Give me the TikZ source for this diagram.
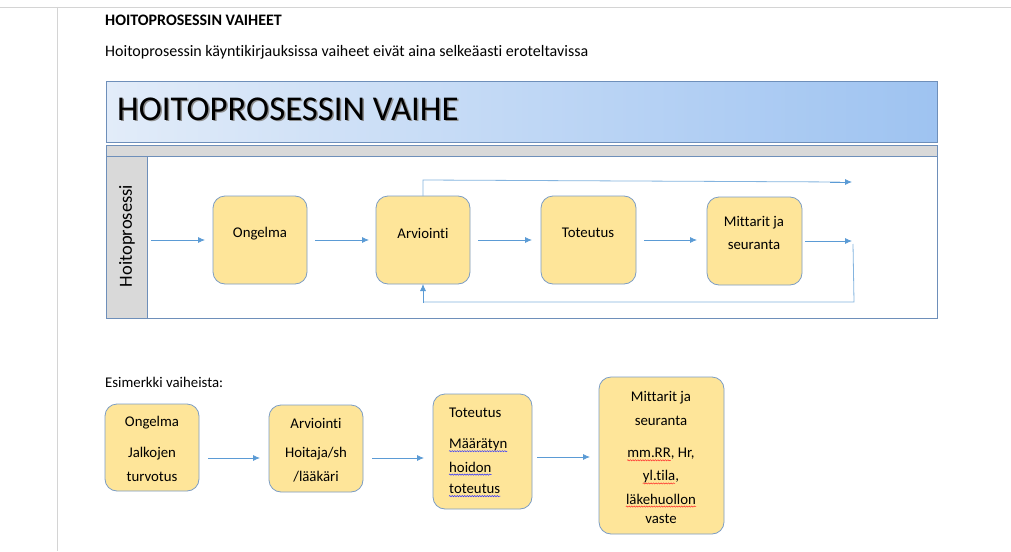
\documentclass[tikz,border=0pt]{standalone}
\usepackage{fontspec}
\setmainfont{Carlito}[RawFeature=-liga]
\usetikzlibrary{arrows.meta,decorations.pathmorphing}
\definecolor{boxfill}{HTML}{FEE599}
\definecolor{boxline}{HTML}{7C9DC4}
\definecolor{arr}{HTML}{5B9BD5}
\definecolor{lane}{HTML}{6E8FBA}
\definecolor{laneg}{HTML}{D9D9D9}
\definecolor{hdrL}{HTML}{E2ECF9}
\definecolor{hdrR}{HTML}{9EC3F1}
\definecolor{pageline}{HTML}{D4D4D4}
\tikzset{
  stage/.style={draw=boxline, line width=0.8pt, fill=boxfill, rounded corners=12pt},
  flow/.style={draw=arr, line width=0.8pt, -{Latex[length=7pt,width=6pt]}},
  loopline/.style={draw=arr!75, line width=0.8pt},
  txt/.style={inner sep=0pt, font=\fontsize{14.8}{16}\selectfont},
  squig/.style={decorate, decoration={snake, amplitude=0.6pt, segment length=2.5pt}, line width=0.5pt},
}
\begin{document}
\begin{tikzpicture}[x=1pt,y=-1pt]
\useasboundingbox (0,0) rectangle (1011,551);
\fill[white] (0,0) rectangle (1011,551);
% page guide lines
\draw[pageline, line width=0.8pt] (0,7) -- (1011,7);
\draw[pageline, line width=0.8pt] (57,7) -- (57,551);
% page texts
\node[txt, anchor=west, font=\bfseries\fontsize{16}{18}\selectfont] (h1) at (105,20) {HOITOPROSESSIN VAIHEET};
\node[txt, anchor=west, font=\fontsize{16}{18}\selectfont] (intro) at (105,52) {Hoitoprosessin käyntikirjauksissa vaiheet eivät aina selkeäasti eroteltavissa};
% header
\draw[lane, line width=0.8pt, left color=hdrL, right color=hdrR] (106,81) rectangle (937,142);
\node[txt, anchor=west, font=\fontsize{34.8}{36}\selectfont, text=black!45] at (118.5,110.5) {HOITOPROSESSIN VAIHE};
\node[txt, anchor=west, font=\fontsize{34.8}{36}\selectfont] (title) at (117,109) {HOITOPROSESSIN VAIHE};
% gray bar
\draw[lane, line width=0.8pt, fill=laneg] (106,145) rectangle (937,156);
% lane
\draw[lane, line width=0.8pt, fill=white] (106,156) rectangle (937,318);
\draw[lane, line width=0.8pt, fill=laneg] (106,156) rectangle (147,318);
\node[txt, rotate=90, font=\fontsize{18.5}{20}\selectfont] (lanelbl) at (127,236) {Hoitoprosessi};
% stages row 1
\draw[stage] (213,196) rectangle (307,284);
\node[txt] (s1) at (260,234) {Ongelma};
\draw[stage] (376,196) rectangle (470,284);
\node[txt] (s2) at (423,233) {Arviointi};
\draw[stage] (541,196) rectangle (636,284);
\node[txt] (s3) at (588,233) {Toteutus};
\draw[stage] (707,197) rectangle (802,285);
\node[txt] (s4a) at (754,223) {Mittarit ja};
\node[txt] (s4b) at (754,245) {seuranta};
\coordinate (b1w) at (213,240); \coordinate (b1e) at (307,240);
\coordinate (b2w) at (376,240); \coordinate (b2e) at (470,240);
\coordinate (b3w) at (541,240); \coordinate (b3e) at (636,240);
\coordinate (b4w) at (707,240); \coordinate (b4e) at (802,241);
\coordinate (b2n) at (423,196); \coordinate (b2s) at (423,284);
\coordinate (in0) at (151,240);
\coordinate (out1) at (852,182);
\coordinate (out2) at (852,241);
% arrows row 1
\draw[flow] (in0) -- ([xshift=-8pt]b1w);
\draw[flow] ([xshift=8pt]b1e) -- ([xshift=-7pt]b2w);
\draw[flow] ([xshift=8pt]b2e) -- ([xshift=-9pt]b3w);
\draw[flow] ([xshift=8pt]b3e) -- ([xshift=-10pt]b4w);
\draw[flow] ([xshift=3pt]b4e) -- (out2);
\draw[loopline] (b2n) -- (423,180) -- (840,182);
\draw[flow] (830,182) -- (out1);
\draw[loopline] (853,244) -- (854,302) -- (423,302);
\draw[flow] (423,303) -- (b2s);
% example
\node[txt, anchor=west] (ex) at (105,382) {Esimerkki vaiheista:};
\draw[stage] (105,404) rectangle (199,491);
\node[txt] (e1a) at (152,423) {Ongelma};
\node[txt] (e1b) at (152,454) {Jalkojen};
\node[txt] (e1c) at (152,477) {turvotus};
\draw[stage] (269,405) rectangle (363,492);
\node[txt] (e2a) at (316,423) {Arviointi};
\node[txt] (e2b) at (316,454) {Hoitaja/sh};
\node[txt] (e2c) at (316,477) {/lääkäri};
\draw[stage] (433,394) rectangle (532,509);
\node[txt, anchor=west] (e3a) at (449,413) {Toteutus};
\node[txt, anchor=west] (e3b) at (449,445) {Määrätyn};
\node[txt, anchor=west] (e3c) at (449,467) {hoidon};
\node[txt, anchor=west] (e3d) at (449,489) {toteutus};
\draw[stage] (599,377) rectangle (724,534);
\node[txt] (e4a) at (661,398) {Mittarit ja};
\node[txt] (e4b) at (661,421) {seuranta};
\node[txt] (e4c) at (661,454) {mm.RR, Hr,};
\node[txt] (e4d) at (661,477) {yl.tila,};
\node[txt] (e4e) at (661,499) {läkehuollon};
\node[txt] (e4f) at (661,519) {vaste};
% squiggles
\draw[squig, blue!80] ([yshift=-2.5pt]e3b.base west) -- ([yshift=-2.5pt]e3b.base east);
\draw[squig, blue!80] ([yshift=-2.5pt]e3c.base west) -- ([yshift=-2.5pt]e3c.base east);
\draw[squig, blue!80] ([yshift=-2.5pt]e3d.base west) -- ([yshift=-2.5pt]e3d.base east);
\draw[squig, red!85] ([yshift=-2.5pt]e4c.base west) -- ([yshift=-2.5pt,xshift=-24pt]e4c.base east);
\draw[squig, red!85] ([yshift=-2.5pt]e4d.base west) -- ([yshift=-2.5pt,xshift=-4pt]e4d.base east);
\draw[squig, red!85] ([yshift=-2.5pt]e4e.base west) -- ([yshift=-2.5pt]e4e.base east);
% example arrows
\coordinate (f1a) at (208,458); \coordinate (f1b) at (260,458);
\coordinate (f2a) at (372,458); \coordinate (f2b) at (424,458);
\coordinate (f3a) at (537,457); \coordinate (f3b) at (590,457);
\draw[flow] (f1a) -- (f1b);
\draw[flow] (f2a) -- (f2b);
\draw[flow] (f3a) -- (f3b);
\end{tikzpicture}
\end{document}
